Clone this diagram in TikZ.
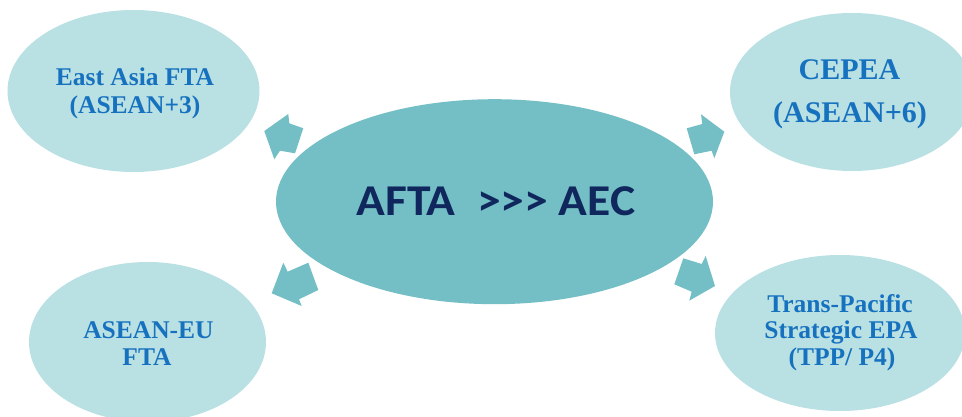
\documentclass[tikz,border=0pt]{standalone}
\usepackage{fontspec}
\setmainfont{Liberation Serif}
\newfontfamily\carl{Carlito}
\usetikzlibrary{shapes.geometric}
\definecolor{lightb}{HTML}{B9E0E3}
\definecolor{midb}{HTML}{74BFC5}
\definecolor{tblue}{HTML}{1672BF}
\definecolor{navy}{HTML}{0F275C}
\begin{document}
\begin{tikzpicture}[x=1pt,y=-1pt,
  bubble/.style={ellipse, fill=lightb, inner sep=0pt},
  core/.style={ellipse, fill=midb, inner sep=0pt},
  lbl/.style={text=tblue, font=\bfseries\fontsize{25.5}{27}\selectfont, inner sep=0pt, anchor=base},
  biglbl/.style={text=tblue, font=\bfseries\fontsize{30}{32}\selectfont, inner sep=0pt, anchor=base},
  blockarrow/.style={fill=midb}]
\useasboundingbox (0,0) rectangle (962,417);
\clip (0,0) rectangle (962,417);
% bubbles
\node[bubble, minimum width=252pt, minimum height=162pt] (ea) at (133.5,91) {};
\node[bubble, minimum width=244pt, minimum height=158pt] (ce) at (852,92) {};
\node[bubble, minimum width=237pt, minimum height=160pt] (eu) at (147.5,342) {};
\node[bubble, minimum width=250pt, minimum height=156pt] (tp) at (840,333) {};
\node[core, minimum width=437pt, minimum height=205pt] (af) at (494.5,201.7) {};
% arrows
\fill[blockarrow] (288.3,114) -- (289.3,123.3) -- (303.3,128.3) -- (295,153.3) -- (280,150.7) -- (274.3,159.3) -- (264.3,131) -- cycle;
\fill[blockarrow] (686.7,128.3) -- (702.3,124) -- (701,114.3) -- (724.3,131.7) -- (714.3,158.3) -- (711.7,150.7) -- (694.3,154.3) -- cycle;
\fill[blockarrow] (283.3,262.7) -- (287.7,271.7) -- (308.3,262.7) -- (318.3,290) -- (299,299.3) -- (301.7,306) -- (271.7,293.3) -- cycle;
\fill[blockarrow] (683.3,258.3) -- (701.7,264) -- (705.7,256) -- (715,286) -- (689.3,300.7) -- (691.7,291.7) -- (674.3,284.3) -- cycle;
% texts
\node[lbl] (ea1) at (135,86) {East Asia FTA};
\node[lbl] (ea2) at (135,114) {(ASEAN+3)};
\node[biglbl] (ce1) at (849.5,80) {CEPEA};
\node[biglbl] (ce2) at (850,123) {(ASEAN+6)};
\node[lbl] (eu1) at (148.5,338) {ASEAN-EU};
\node[lbl] (eu2) at (147,365) {FTA};
\node[lbl] (tp1) at (840,312) {Trans-Pacific};
\node[lbl] (tp2) at (841,338) {Strategic EPA};
\node[lbl] (tp3) at (842,365) {(TPP/ P4)};
\node[text=navy, font=\carl\bfseries\fontsize{44}{46}\selectfont, inner sep=0pt, anchor=base, xscale=1.08] (aft) at (496,215) {AFTA\ \ >>> AEC};
\end{tikzpicture}
\end{document}
